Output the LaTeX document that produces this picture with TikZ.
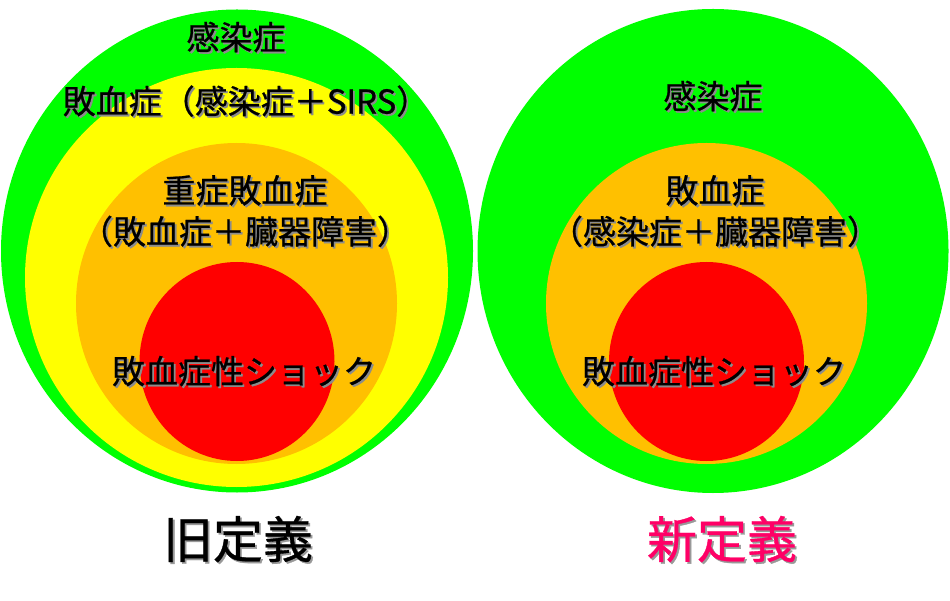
\documentclass[tikz,border=0pt]{standalone}
\usepackage{fontspec}
\setmainfont{Noto Sans CJK JP}
\newfontfamily\jpfont[FakeBold=0.7]{Noto Sans CJK JP}
\usetikzlibrary{shapes.geometric}
\definecolor{cgreen}{HTML}{00FF00}
\definecolor{cyellow}{HTML}{FFFF00}
\definecolor{corange}{HTML}{FFC000}
\definecolor{cred}{HTML}{FF0000}
\definecolor{cpink}{HTML}{FF0066}
\newcommand{\shtxt}[1]{\makebox[0pt][l]{\kern1.8pt\raisebox{-1.8pt}{\color{black!45}#1}}#1}
\newcommand{\shttl}[1]{\makebox[0pt][l]{\kern1.8pt\raisebox{-1.8pt}{\color{black!40}#1}}#1}
\begin{document}
\begin{tikzpicture}[x=1pt,y=-1pt,
  disc/.style={ellipse, inner sep=0pt, outer sep=0pt, draw=none},
  lbl/.style={font=\jpfont\fontsize{33}{41}\selectfont, inner sep=0pt, align=center, text=black},
  ttl/.style={font=\jpfont\fontsize{50}{60}\selectfont, inner sep=0pt}
]
\useasboundingbox (0,0) rectangle (950,601);
\fill[white] (0,0) rectangle (950,601);
% left (old definition)
\node[disc, fill=cgreen, minimum width=472pt, minimum height=483pt] (lg) at (237,251) {};
\node[disc, fill=cyellow, minimum width=423pt, minimum height=419pt] (ly) at (236.5,277.5) {};
\node[disc, fill=corange, minimum width=321pt, minimum height=321pt] (lo) at (236.5,303.5) {};
\node[disc, fill=cred, minimum width=195pt, minimum height=199pt] (lr) at (237,361.5) {};
% right (new definition)
\node[disc, fill=cgreen, minimum width=471pt, minimum height=484pt] (rg) at (713,251) {};
\node[disc, fill=corange, minimum width=321pt, minimum height=321pt] (ro) at (706.5,303.5) {};
\node[disc, fill=cred, minimum width=195pt, minimum height=199pt] (rr) at (706.5,361.5) {};
% left labels
\node[lbl] (t1) at (236,38) {\shtxt{感染症}};
\node[lbl] (t2) at (246,102) {\shtxt{敗血症（感染症＋SIRS）}};
\node[lbl] (t3) at (245,212) {\shtxt{重症敗血症}\\\shtxt{（敗血症＋臓器障害）}};
\node[lbl] (t4) at (244,372) {\shtxt{敗血症性ショック}};
% right labels
\node[lbl] (u1) at (713,97) {\shtxt{感染症}};
\node[lbl] (u2) at (715,212) {\shtxt{敗血症}\\\shtxt{（感染症＋臓器障害）}};
\node[lbl] (u3) at (714,372) {\shtxt{敗血症性ショック}};
% titles
\node[ttl, text=black] (old) at (238,540) {\shttl{旧定義}};
\node[ttl, text=cpink] (new) at (722,540) {\shttl{新定義}};
\end{tikzpicture}
\end{document}
